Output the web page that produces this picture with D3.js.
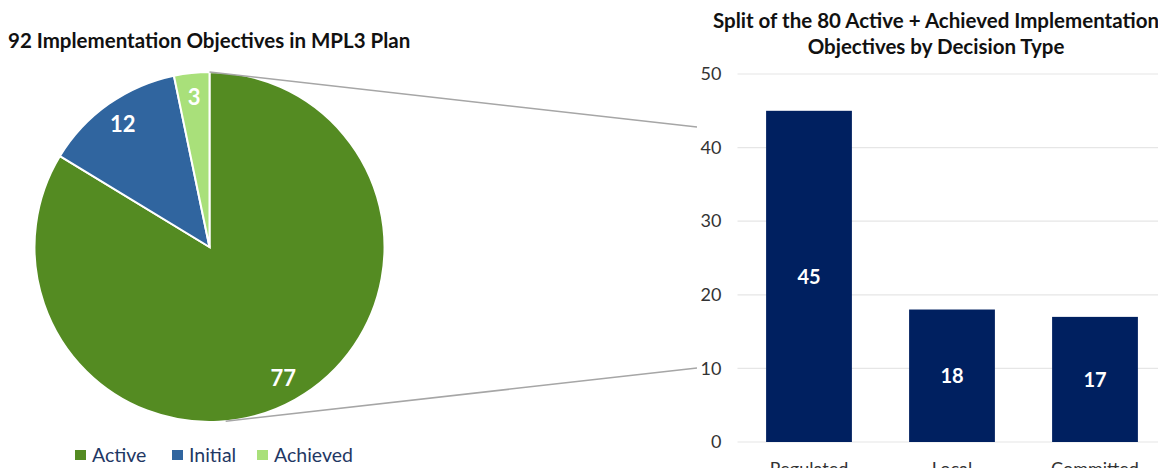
<!DOCTYPE html>
<html>
<head>
<meta charset="utf-8">
<script src="https://cdn.jsdelivr.net/npm/d3@7"></script>
<style>
  body { margin: 0; background: #fff; overflow: hidden; }
  svg { display: block; font-family: Lato, "Open Sans", sans-serif; }
</style>
</head>
<body>
<svg id="canvas" width="1158" height="468"></svg>
<script>
// pie data
const statusNames = ['Active', 'Initial', 'Achieved']
const statusCounts = [77, 12, 3]
const statusColors = ['#548b22', '#30659f', '#a9e07a']

// bar data
const decisionTypes = ['Regulated', 'Local', 'Committed']
const decisionCounts = [45, 18, 17]
const yTicks = [0, 10, 20, 30, 40, 50]

const width = 1158
const height = 468

let canvas = d3.select('#canvas')

// ---- pie ----
const cx = 209.5, cy = 247, radius = 175

let pie = d3.pie().sort(null).value(d => d)
let arcs = pie(statusCounts)
let arc = d3.arc().innerRadius(0).outerRadius(radius)
let labelArc = d3.arc().innerRadius(radius * 0.86).outerRadius(radius * 0.86)

let pieG = canvas.append('g').attr('transform', `translate(${cx},${cy})`)

pieG.selectAll('path')
    .data(arcs)
    .enter()
    .append('path')
    .attr('d', arc)
    .attr('fill', (d, i) => statusColors[i])
    .attr('stroke', '#fff')
    .attr('stroke-width', 2)

pieG.selectAll('text')
    .data(arcs)
    .enter()
    .append('text')
    .attr('transform', d => `translate(${labelArc.centroid(d)})`)
    .attr('text-anchor', 'middle')
    .attr('dy', '0.36em')
    .attr('fill', '#fff')
    .attr('font-weight', 'bold')
    .attr('font-size', 22)
    .text(d => d.data)

canvas.append('text')
    .attr('x', 8)
    .attr('y', 48)
    .attr('font-weight', 'bold')
    .attr('font-size', 20.5)
    .attr('fill', '#111')
    .text('92 Implementation Objectives in MPL3 Plan')

// legend
const legendX = [75, 172, 257]
let legend = canvas.selectAll('.legend')
    .data(statusNames)
    .enter()
    .append('g')
    .attr('class', 'legend')
    .attr('transform', (d, i) => `translate(${legendX[i]},450)`)

legend.append('rect')
    .attr('width', 11)
    .attr('height', 10)
    .attr('fill', (d, i) => statusColors[i])

legend.append('text')
    .attr('x', 17)
    .attr('y', 12)
    .attr('font-size', 19.5)
    .attr('fill', '#1f3864')
    .text(d => d)

// ---- bars ----
const plotLeft = 737.5, plotRight = 1166.5, plotTop = 74, plotBottom = 442

let xScale = d3.scaleBand()
    .domain(decisionTypes)
    .range([plotLeft, plotRight])
    .paddingInner(0.4)
    .paddingOuter(0.2)

let yScale = d3.scaleLinear()
    .domain([0, 50])
    .range([plotBottom, plotTop])

canvas.selectAll('.grid')
    .data(yTicks)
    .enter()
    .append('line')
    .attr('class', 'grid')
    .attr('x1', plotLeft)
    .attr('x2', width)
    .attr('y1', d => yScale(d))
    .attr('y2', d => yScale(d))
    .attr('stroke', '#e6e6e6')
    .attr('stroke-width', 1.2)

let yAxis = d3.axisLeft(yScale).tickValues(yTicks).tickSize(0).tickPadding(16)
let yG = canvas.append('g')
    .attr('transform', `translate(${plotLeft},0)`)
    .call(yAxis)
yG.select('.domain').remove()
yG.selectAll('text')
    .attr('font-size', 18)
    .attr('font-family', 'Lato, sans-serif')
    .attr('fill', '#333')

canvas.selectAll('.bar')
    .data(decisionCounts)
    .enter()
    .append('rect')
    .attr('class', 'bar')
    .attr('x', (d, i) => xScale(decisionTypes[i]))
    .attr('y', d => yScale(d))
    .attr('width', xScale.bandwidth())
    .attr('height', d => plotBottom - yScale(d))
    .attr('fill', '#002060')

canvas.selectAll('.barlabel')
    .data(decisionCounts)
    .enter()
    .append('text')
    .attr('class', 'barlabel')
    .attr('x', (d, i) => xScale(decisionTypes[i]) + xScale.bandwidth() / 2)
    .attr('y', d => yScale(d / 2))
    .attr('dy', '0.36em')
    .attr('text-anchor', 'middle')
    .attr('fill', '#fff')
    .attr('font-weight', 'bold')
    .attr('font-size', 20)
    .text(d => d)

let xAxis = d3.axisBottom(xScale).tickSize(0).tickPadding(20)
let xG = canvas.append('g')
    .attr('transform', `translate(0,${plotBottom})`)
    .call(xAxis)
xG.select('.domain').remove()
xG.selectAll('text')
    .attr('font-size', 18)
    .attr('font-family', 'Lato, sans-serif')
    .attr('fill', '#333')

let title2 = canvas.append('text')
    .attr('text-anchor', 'middle')
    .attr('font-weight', 'bold')
    .attr('font-size', 20.5)
    .attr('fill', '#111')
title2.append('tspan').attr('x', 936).attr('y', 28).text('Split of the 80 Active + Achieved Implementation')
title2.append('tspan').attr('x', 936).attr('y', 54).text('Objectives by Decision Type')

// ---- connector lines ----
let topPoint = [cx, cy - radius]
let bottomAngle = 174.7 * Math.PI / 180
let bottomPoint = [cx + radius * Math.sin(bottomAngle), cy - radius * Math.cos(bottomAngle)]
let connectors = [
    [topPoint, [697, 127]],
    [bottomPoint, [697, 368]]
]
canvas.selectAll('.connector')
    .data(connectors)
    .enter()
    .append('line')
    .attr('class', 'connector')
    .attr('x1', d => d[0][0])
    .attr('y1', d => d[0][1])
    .attr('x2', d => d[1][0])
    .attr('y2', d => d[1][1])
    .attr('stroke', '#a6a6a6')
    .attr('stroke-width', 1.5)
</script>
</body>
</html>
